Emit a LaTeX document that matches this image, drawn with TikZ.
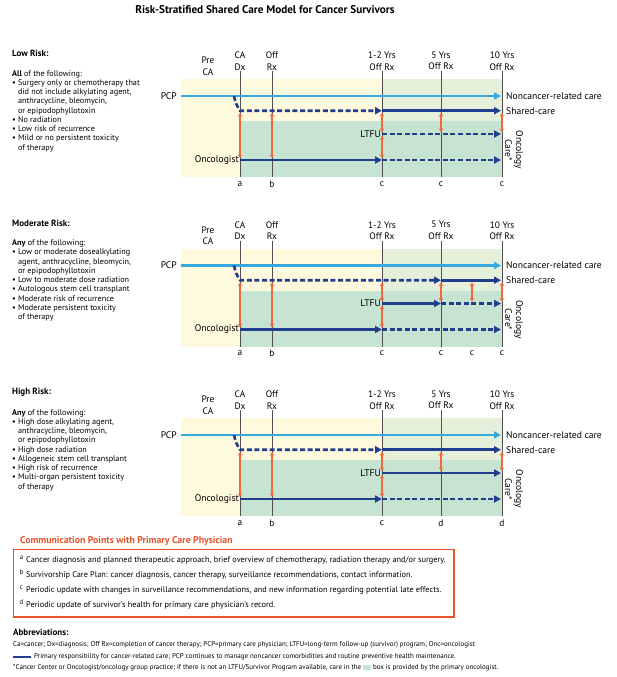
\documentclass[tikz,border=0pt]{standalone}
\usepackage{fontspec}
\setmainfont{PT Sans}
\usetikzlibrary{arrows.meta}

\definecolor{pcpblue}{HTML}{38A9DF}
\definecolor{carenavy}{HTML}{213D8E}
\definecolor{commorange}{HTML}{EF6A3E}
\definecolor{preyellow}{HTML}{FFF9DE}
\definecolor{sharegreen}{HTML}{E4F0D9}
\definecolor{oncgreen}{HTML}{C7E4D3}
\definecolor{timegray}{HTML}{505050}
\definecolor{headorange}{HTML}{E5532B}

% common part of every risk panel
\newcommand{\panelbase}{%
	% backgrounds
	\fill[preyellow] (181,79) rectangle (382,177);
	\fill[sharegreen] (382,79) rectangle (502,121);
	\fill[oncgreen] (240,121) rectangle (502,177);
	% time lines
	\foreach \tx in {240,272,382,441,502}
		\draw[timeline] (\tx,71) -- (\tx,177);
	% time labels
	\node[toplab] at (208,66) {Pre\\CA};
	\node[toplab] at (240,61) {CA\\Dx};
	\node[toplab] at (272,61) {Off\\Rx};
	\node[toplab] at (382,61) {1-2 Yrs\\Off Rx};
	\node[toplab] at (441,61) {5 Yrs\\Off Rx};
	\node[toplab] at (502,61) {10 Yrs\\Off Rx};
	% care labels
	\node[lab, anchor=east] at (177,96) {PCP};
	\node[lab, anchor=east] at (239,160) {Oncologist};
	\node[lab, anchor=east] at (381,134) {LTFU};
	\node[lab, anchor=west] at (506,96) {Noncancer-related care};
	\node[lab, anchor=west] at (506,111) {Shared-care};
	\node[lab, rotate=-90, align=center] at (514,150) {Oncology\\Care*};
	% PCP care
	\draw[pcpline] (181,96) -- (501,96);
	% oncologist care
	\draw[careline] (240,160) -- (382,160);
	\draw[dashline] (382,160) -- (501,160);
	% communication at a, b and c
	\foreach \tx in {240,272}
		\draw[commarrow] (\tx,113) -- (\tx,158);
	\draw[commarrow] (382,113) -- (382,132);
	\draw[commarrow] (382,136) -- (382,158);
	\node[letter] at (240,184) {a};
	\node[letter] at (272,184) {b};
	\node[letter] at (382,184) {c};
}

\begin{document}
\begin{tikzpicture}[x=1pt,y=-1pt,
	lab/.style={font=\fontsize{9.6}{11}\selectfont, inner sep=0pt},
	toplab/.style={font=\fontsize{9.4}{11.5}\selectfont, align=center, inner sep=0pt},
	letter/.style={font=\fontsize{9.4}{11}\selectfont, inner sep=0pt},
	desc/.style={font=\fontsize{8.2}{9.25}\selectfont, align=left, anchor=north west, inner sep=0pt},
	riskhead/.style={font=\bfseries\fontsize{9}{11}\selectfont, anchor=west, inner sep=0pt},
	timeline/.style={timegray, line width=0.8pt},
	pcpline/.style={pcpblue, line width=2.6pt, -{Triangle[length=7pt,width=7pt]}},
	careline/.style={carenavy, line width=2.6pt, -{Triangle[length=7pt,width=7pt]}},
	dashline/.style={careline, dash pattern=on 5pt off 2.6pt},
	commarrow/.style={commorange, line width=1.2pt, {Stealth[length=3.5pt,width=4.5pt]}-{Stealth[length=3.5pt,width=4.5pt]}},
	commtext/.style={font=\fontsize{8.3}{10}\selectfont, anchor=west, inner sep=0pt},
	commletter/.style={font=\fontsize{6.8}{7}\selectfont, inner sep=0pt},
	abbr/.style={font=\fontsize{7}{8}\selectfont, anchor=west, inner sep=0pt}]
	
	\useasboundingbox (0,0) rectangle (616,677);
	
	% title
	\node[font=\bfseries\fontsize{11.2}{13}\selectfont] at (265,9.5) {Risk-Stratified Shared Care Model for Cancer Survivors};
	
	% Low risk
	\node[riskhead] at (12,53.5) {Low Risk:};
	\node[desc] at (12,70) {\textbf{All} of the following:\\
		\textbullet\ Surgery only or chemotherapy that\\
		\phantom{\textbullet\ }did not include alkylating agent,\\
		\phantom{\textbullet\ }anthracycline, bleomycin,\\
		\phantom{\textbullet\ }or epipodophyllotoxin\\
		\textbullet\ No radiation\\
		\textbullet\ Low risk of recurrence\\
		\textbullet\ Mild or no persistent toxicity\\
		\phantom{\textbullet\ }of therapy};
	\begin{scope}
	\panelbase
	\draw[dashline] (234,96) .. controls (236,104) .. (240,110.7) -- (382,110.7);
	\draw[careline] (382,110.7) -- (501,110.7);
	\draw[dashline] (382,134) -- (501,134);
	\draw[commarrow] (441,113) -- (441,132);
	\draw[commarrow] (502,113) -- (502,132);
	\node[letter] at (441,184) {c};
	\node[letter] at (502,184) {c};
	\end{scope}
	
	% Moderate risk
	\node[riskhead] at (12,223) {Moderate Risk:};
	\node[desc] at (12,239.5) {\textbf{Any} of the following:\\
		\textbullet\ Low or moderate dosealkylating\\
		\phantom{\textbullet\ }agent, anthracycline, bleomycin,\\
		\phantom{\textbullet\ }or epipodophyllotoxin\\
		\textbullet\ Low to moderate dose radiation\\
		\textbullet\ Autologous stem cell transplant\\
		\textbullet\ Moderate risk of recurrence\\
		\textbullet\ Moderate persistent toxicity\\
		\phantom{\textbullet\ }of therapy};
	\begin{scope}[shift={(0,169.5)}]
	\panelbase
	\draw[dashline] (234,96) .. controls (236,104) .. (240,110.7) -- (441,110.7);
	\draw[careline] (441,110.7) -- (501,110.7);
	\draw[careline] (382,134) -- (441,134);
	\draw[dashline] (441,134) -- (501,134);
	\foreach \tx in {441,472,502}
		\draw[commarrow] (\tx,113) -- (\tx,132);
	\node[letter] at (441,184) {c};
	\node[letter] at (472,184) {c};
	\node[letter] at (502,184) {c};
	\end{scope}
	
	% High risk
	\node[riskhead] at (12,392.5) {High Risk:};
	\node[desc] at (12,409) {\textbf{Any} of the following:\\
		\textbullet\ High dose alkylating agent,\\
		\phantom{\textbullet\ }anthracycline, bleomycin,\\
		\phantom{\textbullet\ }or epipodophyllotoxin\\
		\textbullet\ High dose radiation\\
		\textbullet\ Allogeneic stem cell transplant\\
		\textbullet\ High risk of recurrence\\
		\textbullet\ Multi-organ persistent toxicity\\
		\phantom{\textbullet\ }of therapy};
	\begin{scope}[shift={(0,339)}]
	\panelbase
	\draw[dashline] (234,96) .. controls (236,104) .. (240,110.7) -- (382,110.7);
	\draw[careline] (382,110.7) -- (501,110.7);
	\draw[careline] (382,134) -- (501,134);
	\foreach \tx in {441,502}
		\draw[commarrow] (\tx,113) -- (\tx,132);
	\node[letter] at (441,184) {d};
	\node[letter] at (502,184) {d};
	\end{scope}
	
	% communication points
	\node[riskhead, font=\bfseries\fontsize{9.8}{11}\selectfont, text=headorange] at (20,541) {Communication Points with Primary Care Physician};
	\draw[headorange, line width=1.2pt] (13.5,549.5) rectangle (454,617);
	\node[commletter] at (21.5,557.5) {a};
	\node[commtext] at (26,560) {Cancer diagnosis and planned therapeutic approach, brief overview of chemotherapy, radiation therapy and/or surgery.};
	\node[commletter] at (21.5,572.5) {b};
	\node[commtext] at (26,575) {Survivorship Care Plan: cancer diagnosis, cancer therapy, surveillance recommendations, contact information.};
	\node[commletter] at (21.5,587.5) {c};
	\node[commtext] at (26,590) {Periodic update with changes in surveillance recommendations, and new information regarding potential late effects.};
	\node[commletter] at (21.5,602.5) {d};
	\node[commtext] at (26,605) {Periodic update of survivor’s health for primary care physician’s record.};
	
	% abbreviations
	\node[riskhead] at (13,632) {Abbreviations:};
	\node[abbr] at (13,645) {Ca=cancer; Dx=diagnosis; Off Rx=completion of cancer therapy; PCP=primary care physician; LTFU=long-term follow-up (survivor) program; Onc=oncologist};
	\draw[carenavy, line width=2.4pt] (13,657) -- (31,657);
	\node[abbr] at (34,657) {Primary responsibility for cancer-related care; PCP continues to manage noncancer comorbidities and routine preventive health maintenance.};
	\node[abbr] at (13,668) {*Cancer Center or Oncologist/oncology group practice; if there is not an LTFU/Survivor Program available, care in the {\color{oncgreen}\rule{8pt}{5pt}} box is provided by the primary oncologist.};
	
\end{tikzpicture}
\end{document}
